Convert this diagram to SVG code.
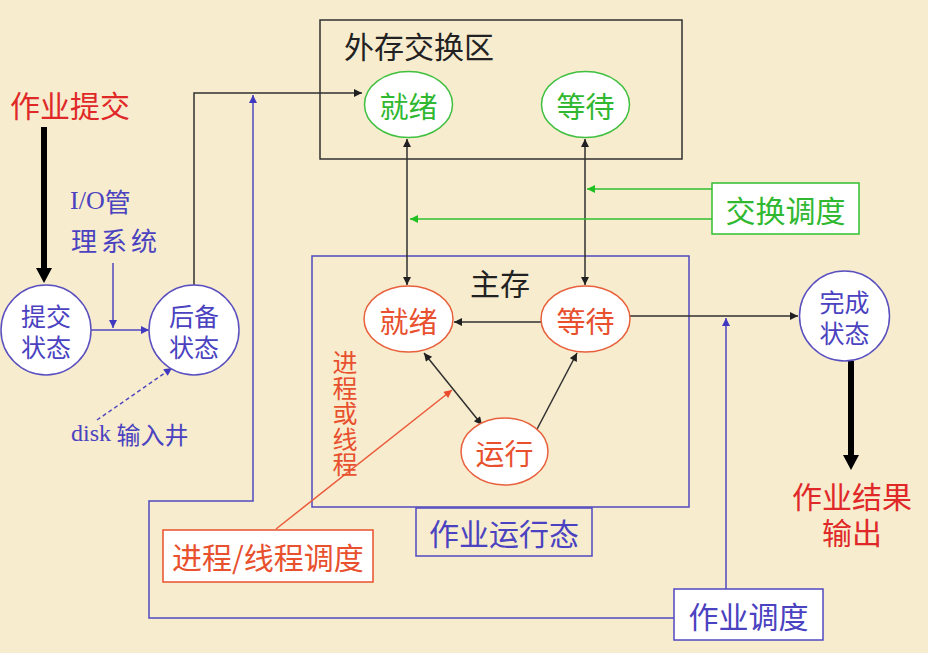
<svg xmlns="http://www.w3.org/2000/svg" width="928" height="653" viewBox="0 0 928 653">
<style>
text{font-family:"Noto Sans CJK SC","Noto Sans",sans-serif;dominant-baseline:central}
.serif{font-family:"Liberation Serif","Noto Sans CJK SC",serif}
.red{fill:#e02828}
.ored{fill:#e8502e}
.blue{fill:#4a42c0}
.green{fill:#30b830}
.blk{fill:#222}
.ln{fill:none;stroke-width:1.5}
.k{stroke:#303030}
.b{stroke:#5048c0}
.g{stroke:#30c030}
.r{stroke:#ec5a3c}
.node{fill:#fff;stroke-width:1.5}
</style>
<defs>
<marker id="ak" viewBox="0 0 10 10" refX="10" refY="5" markerWidth="10" markerHeight="8" markerUnits="userSpaceOnUse" orient="auto-start-reverse"><path d="M0,0 L10,5 L0,10 z" fill="#202020"/></marker>
<marker id="ab" viewBox="0 0 10 10" refX="10" refY="5" markerWidth="10" markerHeight="8" markerUnits="userSpaceOnUse" orient="auto-start-reverse"><path d="M0,0 L10,5 L0,10 z" fill="#4038c0"/></marker>
<marker id="ag" viewBox="0 0 10 10" refX="10" refY="5" markerWidth="10" markerHeight="8" markerUnits="userSpaceOnUse" orient="auto-start-reverse"><path d="M0,0 L10,5 L0,10 z" fill="#20c020"/></marker>
<marker id="ar" viewBox="0 0 10 10" refX="10" refY="5" markerWidth="10" markerHeight="8" markerUnits="userSpaceOnUse" orient="auto-start-reverse"><path d="M0,0 L10,5 L0,10 z" fill="#ec4a2c"/></marker>
</defs>
<rect width="928" height="653" fill="#f7ecce"/>

<!-- containers -->
<g id="swap-area">
<rect x="320" y="20" width="362" height="139" fill="none" stroke="#303030" stroke-width="1.5"/>
<text x="344" y="45" font-size="30" class="blk">外存交换区</text>
</g>
<g id="main-memory">
<rect x="312" y="256" width="377" height="251" fill="none" stroke="#5048c0" stroke-width="1.5"/>
<text x="470" y="282" font-size="30" class="blk">主存</text>
</g>

<!-- connectors -->
<g id="connectors">
<path class="ln k" d="M194,285 L194,93 L362,93" marker-end="url(#ak)"/>
<path class="ln b" d="M674,618 L149,618 L149,501 L253,501 L253,95" marker-end="url(#ab)"/>
<path class="ln b" d="M91,330 L149,330" marker-end="url(#ab)"/>
<path class="ln b" d="M113,263 L113,328" marker-end="url(#ab)"/>
<path class="ln b" d="M97,420 L172,368" stroke-dasharray="4,3" marker-end="url(#ab)"/>
<path class="ln k" d="M407,139 L407,285" marker-start="url(#ak)" marker-end="url(#ak)"/>
<path class="ln k" d="M585,139 L585,285" marker-start="url(#ak)" marker-end="url(#ak)"/>
<path class="ln g" d="M712,189 L587,189" marker-end="url(#ag)"/>
<path class="ln g" d="M712,219 L410,219" marker-end="url(#ag)"/>
<path class="ln k" d="M541,322 L454,322" marker-end="url(#ak)"/>
<path class="ln k" d="M630,316 L798,316" marker-end="url(#ak)"/>
<path class="ln k" d="M424,353 L482,425" marker-start="url(#ak)" marker-end="url(#ak)"/>
<path class="ln k" d="M535,433 L577,353" marker-end="url(#ak)"/>
<path class="ln r" d="M276,529 L452,390" marker-end="url(#ar)"/>
<path class="ln b" d="M726,589 L726,318" marker-end="url(#ab)"/>
<path d="M44,127 L44,270" stroke="#000" stroke-width="6" fill="none"/>
<path d="M36,268 L52,268 L44,283 z" fill="#000"/>
<path d="M851,361 L851,456" stroke="#000" stroke-width="6" fill="none"/>
<path d="M843,455 L859,455 L851,470 z" fill="#000"/>
</g>

<!-- nodes -->
<g id="job-submit">
<text x="10" y="104" font-size="30" class="red">作业提交</text>
</g>
<g id="io-label">
<text font-size="26" class="blue"><tspan x="70" y="200"><tspan class="serif">I/O</tspan>管</tspan><tspan x="71" y="239" letter-spacing="4">理系统</tspan></text>
</g>
<g id="submit-state">
<circle cx="46" cy="330" r="45" class="node" stroke="#5a50c0"/>
<text font-size="25" class="blue" text-anchor="middle"><tspan x="46" y="315">提交</tspan><tspan x="46" y="346">状态</tspan></text>
</g>
<g id="backup-state">
<circle cx="194" cy="330" r="45" class="node" stroke="#5a50c0"/>
<text font-size="25" class="blue" text-anchor="middle"><tspan x="194" y="315">后备</tspan><tspan x="194" y="346">状态</tspan></text>
</g>
<g id="disk-label">
<text x="71" y="433" font-size="24" class="blue"><tspan class="serif">disk</tspan> 输入井</text>
</g>
<g id="ext-ready">
<ellipse cx="408.5" cy="104.5" rx="44" ry="33" class="node" stroke="#40c040"/>
<text x="408.5" y="105" font-size="29" class="green" text-anchor="middle">就绪</text>
</g>
<g id="ext-wait">
<ellipse cx="585.5" cy="104.5" rx="44" ry="33" class="node" stroke="#40c040"/>
<text x="585.5" y="105" font-size="29" class="green" text-anchor="middle">等待</text>
</g>
<g id="swap-schedule">
<rect x="712" y="183" width="147" height="51" fill="#fff" stroke="#30c030" stroke-width="1.5"/>
<text x="785.5" y="209" font-size="30" class="green" text-anchor="middle">交换调度</text>
</g>
<g id="mem-ready">
<ellipse cx="408.5" cy="319" rx="44.5" ry="33" class="node" stroke="#e8603c"/>
<text x="408.5" y="320" font-size="29" class="ored" text-anchor="middle">就绪</text>
</g>
<g id="mem-wait">
<ellipse cx="585.5" cy="319" rx="44.5" ry="33" class="node" stroke="#e8603c"/>
<text x="585.5" y="320" font-size="29" class="ored" text-anchor="middle">等待</text>
</g>
<g id="mem-run">
<ellipse cx="504.5" cy="451.5" rx="43.5" ry="33.5" class="node" stroke="#e8603c"/>
<text x="504.5" y="452" font-size="29" class="ored" text-anchor="middle">运行</text>
</g>
<g id="proc-label">
<text x="345" y="350" font-size="25" class="ored" writing-mode="vertical-rl" letter-spacing="0.6">进程或线程</text>
</g>
<g id="job-running">
<rect x="416" y="508" width="176" height="48" fill="none" stroke="#5048c0" stroke-width="1.5"/>
<text x="504" y="532" font-size="30" class="blue" text-anchor="middle">作业运行态</text>
</g>
<g id="proc-schedule">
<rect x="163" y="530" width="210" height="52" fill="#fff" stroke="#e8502e" stroke-width="1.5"/>
<text x="268" y="556" font-size="30" class="ored" text-anchor="middle">进程/线程调度</text>
</g>
<g id="job-schedule">
<rect x="674" y="589" width="149" height="51" fill="#fff" stroke="#5048c0" stroke-width="1.5"/>
<text x="748.5" y="615" font-size="30" class="blue" text-anchor="middle">作业调度</text>
</g>
<g id="done-state">
<circle cx="844.5" cy="316" r="45" class="node" stroke="#5a50c0"/>
<text font-size="25" class="blue" text-anchor="middle"><tspan x="844.5" y="301">完成</tspan><tspan x="844.5" y="332">状态</tspan></text>
</g>
<g id="job-output">
<text font-size="30" class="red" text-anchor="middle"><tspan x="852" y="495">作业结果</tspan><tspan x="852" y="531">输出</tspan></text>
</g>
</svg>
